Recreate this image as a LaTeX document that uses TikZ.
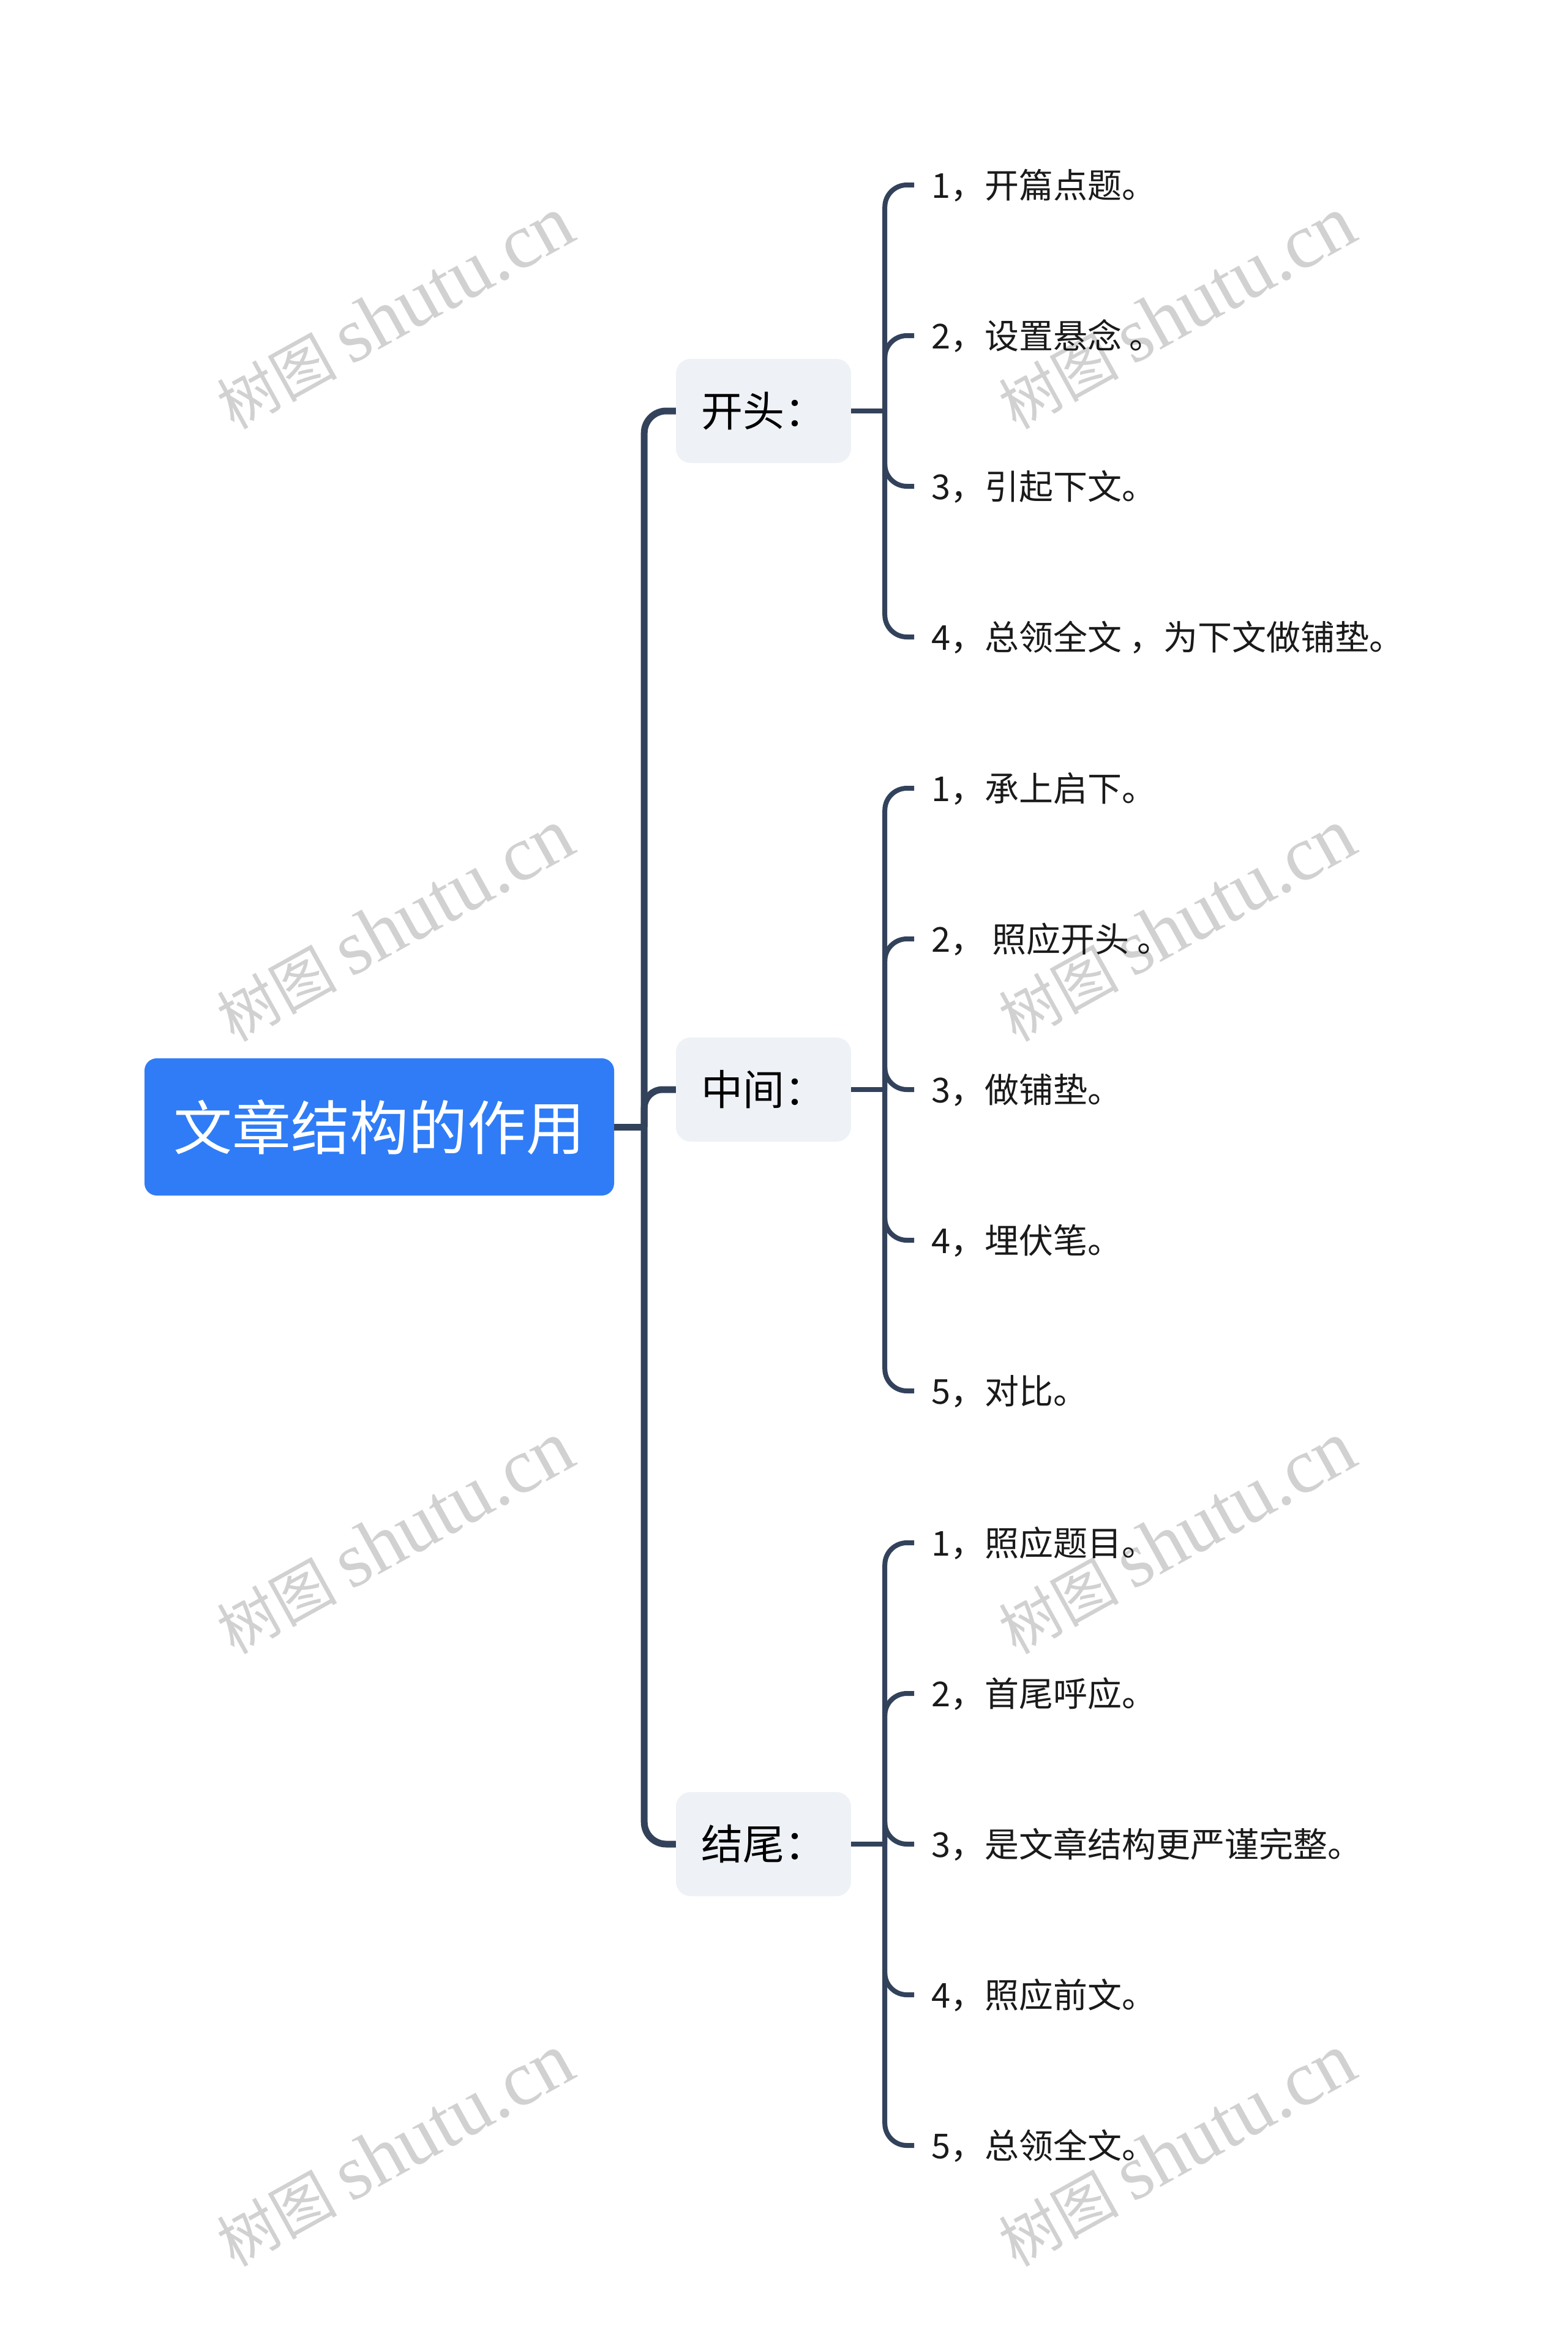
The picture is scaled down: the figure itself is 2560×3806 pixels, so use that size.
\documentclass[tikz,border=0pt]{standalone}
\usepackage{fontspec}
\setmainfont{Noto Sans CJK SC}
\newfontfamily\wmlatin{Liberation Serif}
\definecolor{linec}{HTML}{33425B}
\definecolor{rootc}{HTML}{2F7CF6}
\definecolor{branchc}{HTML}{EEF1F5}
\definecolor{leaftext}{HTML}{1A1A1A}
\tikzset{
  rootbox/.style={fill=rootc, rounded corners=20pt, minimum width=767pt, minimum height=224pt,
    inner sep=0pt, text=white, font=\fontsize{96}{110}\selectfont, text height=80pt, text depth=6pt},
  branchbox/.style={fill=branchc, rounded corners=24pt, minimum width=286pt, minimum height=170pt,
    inner sep=0pt, text=black, font=\fontsize{68}{80}\selectfont, text height=56pt, text depth=5pt},
  leaf/.style={anchor=west, inner sep=0pt, text=leaftext, font=\fontsize{56}{66}\selectfont,
    text height=46pt, text depth=4pt},
  lineA/.style={draw=linec, line width=11pt},
  lineB/.style={draw=linec, line width=8pt},
  wm/.style={rotate=29, text=black, text opacity=0.18, inner sep=0pt}
}
\newcommand{\wmtext}{{\fontsize{98}{100}\selectfont 树图}\hspace{22pt}{\wmlatin\fontsize{127}{130}\selectfont shutu.cn}}
\begin{document}
\begin{tikzpicture}[x=1pt,y=-1pt]
\fill[white] (0,0) rectangle (2560,3806);
\useasboundingbox (0,0) rectangle (2560,3806);

% root and branches
\node[rootbox] (root) at (619.5,1840) {文章结构的作用};
\node[branchbox] (kt) at (1247,671) {开头：};
\node[branchbox] (zj) at (1247,1779) {中间：};
\node[branchbox] (jw) at (1247,3011) {结尾：};

% first level connectors
\coordinate (J) at ([xshift=49pt]root.east);
\draw[lineA] (root.east) -- (J);
\draw[lineA, rounded corners=36pt] (J) |- (kt.west);
\draw[lineA, rounded corners=30pt] (J) |- (zj.west);
\draw[lineA, rounded corners=36pt] (J) |- (jw.west);

% second level junctions
\coordinate (ktJ) at ([xshift=55pt]kt.east);
\coordinate (zjJ) at ([xshift=55pt]zj.east);
\coordinate (jwJ) at ([xshift=55pt]jw.east);
\draw[lineB] (kt.east) -- (ktJ);
\draw[lineB] (zj.east) -- (zjJ);
\draw[lineB] (jw.east) -- (jwJ);

% leaves of 开头
\foreach \t [count=\i] in {{1，开篇点题。},{2，设置悬念 。},{3，引起下文。},{4，总领全文 ，为下文做铺垫。}} {
  \node[leaf] (kt\i) at (1521,{671+246*(\i-2.5)}) {\t};
  \draw[lineB, rounded corners=36pt] (ktJ) |- ([xshift=-28pt]kt\i.west);
}
% leaves of 中间
\foreach \t [count=\i] in {{1，承上启下。},{2， 照应开头 。},{3，做铺垫。},{4，埋伏笔。},{5，对比。}} {
  \node[leaf] (zj\i) at (1521,{1779+246*(\i-3)}) {\t};
  \draw[lineB, rounded corners=36pt] (zjJ) |- ([xshift=-28pt]zj\i.west);
}
% leaves of 结尾
\foreach \t [count=\i] in {{1，照应题目。},{2，首尾呼应。},{3，是文章结构更严谨完整。},{4，照应前文。},{5，总领全文。}} {
  \node[leaf] (jw\i) at (1521,{3011+246*(\i-3)}) {\t};
  \draw[lineB, rounded corners=36pt] (jwJ) |- ([xshift=-28pt]jw\i.west);
}

% watermarks
\foreach \wy [count=\k] in {511,1511,2511,3511} {
  \node[wm] (wmL\k) at (645,\wy) {\wmtext};
  \node[wm] (wmR\k) at (1922,\wy) {\wmtext};
}
\end{tikzpicture}
\end{document}
